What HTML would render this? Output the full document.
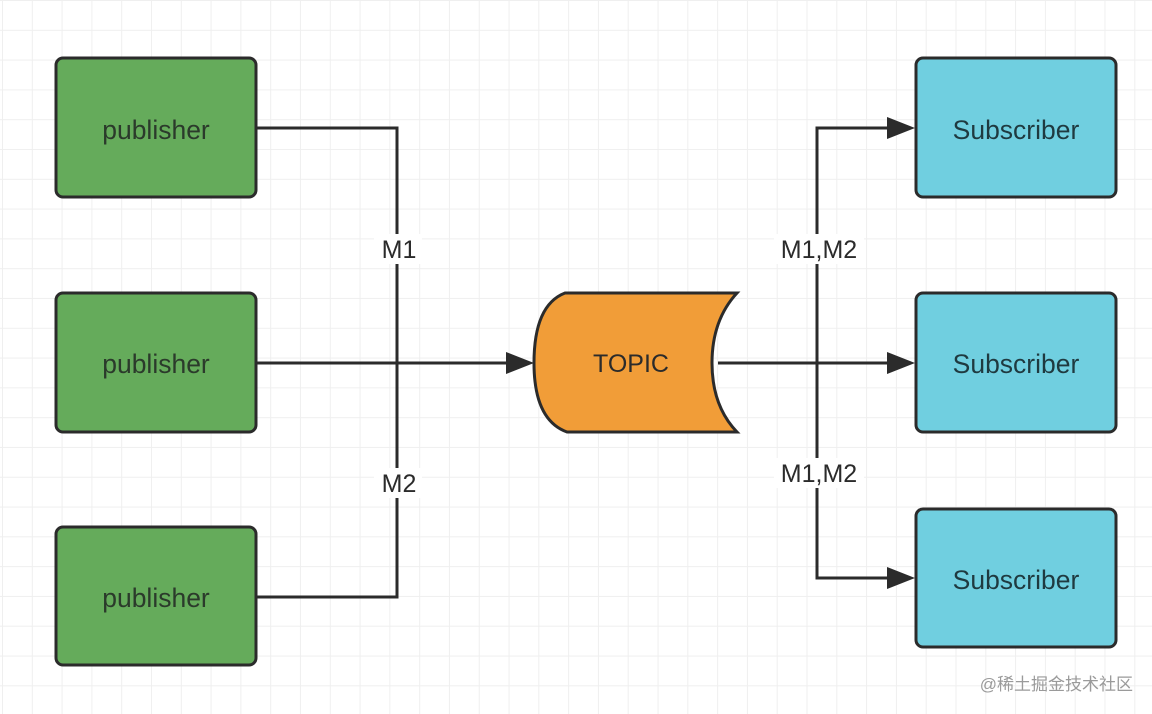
<!DOCTYPE html>
<html><head><meta charset="utf-8"><style>
body{margin:0;width:1152px;height:714px;overflow:hidden;background:#fff;
background-image:linear-gradient(#efefef 1px,transparent 1px),linear-gradient(90deg,#efefef 1px,transparent 1px);
background-size:29.8px 29.8px;background-position:2px 0px;}
svg{position:absolute;left:0;top:0}
text{font-family:"Liberation Sans",sans-serif;}
</style></head><body>
<svg width="1152" height="714" viewBox="0 0 1152 714">
<g stroke="#2b2b2b" stroke-width="3" fill="none">
<polyline points="257,128 397,128 397,597 257,597"/>
<line x1="257" y1="363" x2="510" y2="363"/>
<line x1="718" y1="363" x2="892" y2="363"/>
<polyline points="892,128 817,128 817,578 892,578"/>
</g>
<g fill="#2b2b2b">
<polygon points="534,363 506,352 506,374"/>
<polygon points="915,363 887,352 887,374"/>
<polygon points="915,128 887,117 887,139"/>
<polygon points="915,578 887,567 887,589"/>
</g>
<g fill="#fff">
<rect x="374" y="234" width="48" height="30"/>
<rect x="374" y="468" width="48" height="30"/>
<rect x="774" y="234" width="90" height="30"/>
<rect x="774" y="458" width="90" height="30"/>
</g>
<g font-size="25" fill="#2b2b2b" text-anchor="middle">
<text x="399" y="258">M1</text><text x="399" y="492">M2</text>
<text x="819" y="258">M1,M2</text><text x="819" y="482">M1,M2</text>
</g>
<g stroke="#2b2b2b" stroke-width="3" fill="#65ab5b">
<rect x="56" y="58" width="200" height="139" rx="7"/>
<rect x="56" y="293" width="200" height="139" rx="7"/>
<rect x="56" y="527" width="200" height="138" rx="7"/>
</g>
<g stroke="#2b2b2b" stroke-width="3" fill="#70cfe0">
<rect x="916" y="58" width="200" height="139" rx="7"/>
<rect x="916" y="293" width="200" height="139" rx="7"/>
<rect x="916" y="509" width="200" height="138" rx="7"/>
</g>
<path d="M565,293 L737,293 Q712,320 712,363 Q712,406 737,432 L567,432 Q534,420 534,363 Q534,305 565,293 Z" fill="#f19d38" stroke="#2b2b2b" stroke-width="3"/>
<g font-size="26.5" fill="#2b3a2b" text-anchor="middle">
<text x="156" y="139">publisher</text><text x="156" y="373">publisher</text><text x="156" y="607">publisher</text>
<text x="1016" y="139" fill="#1f3a40">Subscriber</text><text x="1016" y="373" fill="#1f3a40">Subscriber</text><text x="1016" y="589" fill="#1f3a40">Subscriber</text>
<text x="631" y="372" fill="#2b2b2b" font-size="25">TOPIC</text>
</g>
<text x="1133" y="690" font-size="17" fill="#9a9a9a" text-anchor="end" style='font-family:"Liberation Sans","Noto Sans CJK SC",sans-serif'>@稀土掘金技术社区</text>
</svg>
</body></html>
